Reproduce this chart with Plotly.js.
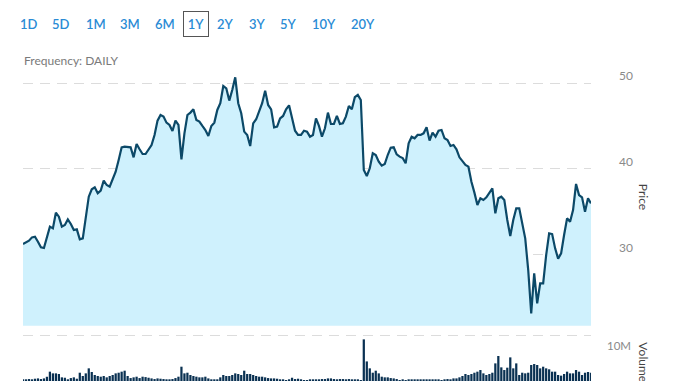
<!DOCTYPE html>
<html><head><meta charset="utf-8">
<script src="https://cdn.plot.ly/plotly-3.0.1.min.js"></script>
<style>html,body{margin:0;padding:0;background:#fff;overflow:hidden}#chart{width:678px;height:381px}</style>
</head><body><div id="chart"></div>
<script>
// ---- data ----
const ranges = ['1D','5D','1M','3M','6M','1Y','2Y','3Y','5Y','10Y','20Y'];
const selectedRange = '1Y';
const frequencyLabel = 'Frequency: DAILY';
const priceTitle = 'Price';
const volumeTitle = 'Volume';
const price = [
31.24,31.40,31.63,32.02,32.10,31.52,30.86,30.78,32.10,33.27,33.07,34.90,34.44,33.27,33.46,34.12,33.58,32.88,32.96,31.79,31.91,34.24,36.77,37.63,37.86,37.16,37.47,38.64,38.13,37.94,38.79,39.69,41.05,42.53,42.61,42.53,42.53,41.36,
42.92,42.30,41.75,41.75,42.30,42.80,43.97,45.64,46.30,46.11,45.41,45.14,44.44,45.64,45.14,41.13,44.16,46.30,46.58,46.96,45.72,45.53,45.02,44.55,43.85,45.02,45.41,46.89,47.67,49.69,49.42,47.98,49.22,50.70,47.67,46.50,44.36,43.97,
42.68,45.33,45.80,46.69,47.67,49.14,47.47,46.96,44.86,44.94,45.91,46.19,46.96,47.43,46.11,44.47,43.97,43.97,44.47,44.36,43.77,43.97,45.91,45.02,43.77,44.75,46.58,45.25,45.25,46.19,45.25,45.33,46.11,47.35,46.96,48.37,48.64,48.05,
39.88,39.18,40.08,41.83,41.63,40.86,40.39,40.58,41.63,42.49,42.53,41.71,41.44,41.28,40.66,43.00,43.77,43.58,43.97,43.97,44.16,44.86,43.31,44.24,43.77,44.47,44.55,43.58,43.38,42.68,42.80,42.30,41.36,40.97,40.47,40.27,38.52,37.24,
35.80,36.58,36.38,36.69,37.16,37.74,34.82,36.58,36.77,36.38,34.05,32.18,34.05,35.41,35.41,33.66,31.91,28.21,23.15,27.82,24.32,26.65,26.65,29.96,32.49,32.41,30.74,29.53,30.15,32.30,34.24,33.85,35.21,38.25,36.96,36.69,35.02,36.58,35.99
];
// volume in millions
const volumeM = [
3.26,3.26,3.3,3.26,3.35,3.4,3.3,3.4,3.65,4.43,
4.17,4.17,4.07,3.56,3.5,3.26,3.45,3.56,3.35,4.27,
3.77,4.17,4.94,4.38,3.92,3.77,3.66,3.77,3.56,3.77,
3.92,4.17,4.27,4.43,4.58,3.77,3.45,3.56,3.66,3.45,
3.66,3.6,3.5,3.4,3.3,3.4,3.35,3.3,3.26,3.26,
3.3,3.45,3.66,5.19,4.17,4.27,3.92,3.77,3.66,3.56,
3.56,3.66,3.4,3.26,3.26,3.26,3.56,3.92,3.77,3.77,
3.92,4.17,4.07,3.92,4.58,4.07,4.07,3.92,3.77,3.66,
3.66,3.56,3.45,3.4,3.4,3.35,3.26,3.26,3.15,3.26,
3.5,3.3,3.35,3.26,3.15,3.15,3.26,3.26,3.26,3.26,
3.3,3.3,3.4,3.4,3.3,3.26,3.3,3.3,3.26,3.3,
3.26,3.26,3.26,3.15,9.38,6.0,4.94,4.27,4.58,4.17,
3.66,3.56,3.56,3.45,3.4,3.3,3.15,3.26,3.15,3.26,
3.26,3.26,3.26,3.26,3.26,3.26,3.26,3.26,3.26,3.26,
3.15,3.26,3.3,3.26,3.4,3.4,3.56,3.77,4.07,3.92,
4.07,4.27,4.43,4.68,4.17,3.92,4.07,4.27,5.7,6.83,
5.09,4.68,5.04,6.62,4.94,5.7,3.92,4.27,4.17,4.27,
5.45,5.6,5.45,4.94,5.19,4.94,4.79,4.43,4.43,3.92,
3.82,4.07,4.43,4.17,4.17,4.68,4.43,3.92,4.27,4.38,4.27
];
const priceTicks = [30, 40, 50];
const volumeTicks = [10];
const volumeTickText = ['10M'];
const day = price.map((_, i) => i);

// ---- layout helpers (pixel -> paper) ----
const L = 22.7, R = 591.3, T = 70, B = 381;
const px = X => (X - L) / (R - L);
const py = Y => (B - Y) / (B - T);

const btnCenters = [28.7, 61, 96, 130.3, 164.7, 196.3, 225.3, 257.2, 288.2, 323.7, 363.3];
const annotations = ranges.map((r, i) => {
  const a = {
    text: r, xref: 'paper', yref: 'paper', x: px(btnCenters[i]), y: py(23.5),
    xanchor: 'center', yanchor: 'middle', showarrow: false,
    font: {family: 'Lato', size: 13, color: '#2a8bd5', weight: 600}
  };
  if (r === selectedRange) {
    Object.assign(a, {bordercolor: '#555', borderwidth: 1, borderpad: 1, width: 22, height: 22, bgcolor: '#fff'});
  }
  return a;
});
annotations.push({
  text: frequencyLabel, xref: 'paper', yref: 'paper', x: px(21.7), y: py(60.5),
  xanchor: 'left', yanchor: 'middle', showarrow: false,
  font: {family: 'Lato', size: 12, color: '#7a7a7a'}
});
annotations.push({
  text: priceTitle, xref: 'paper', yref: 'paper', x: px(644), y: py(196.5), textangle: 90,
  xanchor: 'center', yanchor: 'middle', showarrow: false,
  font: {family: 'Lato', size: 12, color: '#444'}
});
annotations.push({
  text: volumeTitle, xref: 'paper', yref: 'paper', x: px(644), y: py(362), textangle: 90,
  xanchor: 'center', yanchor: 'middle', showarrow: false,
  font: {family: 'Lato', size: 12, color: '#444'}
});

const traces = [
  {
    type: 'scatter', mode: 'lines', x: day, y: price, yaxis: 'y',
    line: {color: '#0c4968', width: 2.2}, fill: 'tozeroy', fillcolor: '#cff1fd',
    hoverinfo: 'skip'
  },
  {
    type: 'bar', x: day, y: volumeM, yaxis: 'y2',
    marker: {color: '#0a3152', line: {width: 0}}, hoverinfo: 'skip'
  }
];

const layout = {
  width: 678, height: 381,
  margin: {l: L, r: 678 - R, t: T, b: 0, pad: 0},
  paper_bgcolor: '#fff', plot_bgcolor: 'rgba(0,0,0,0)',
  showlegend: false, bargap: 0.25,
  xaxis: {range: [0, 190], visible: false, fixedrange: true},
  yaxis: {
    domain: [py(325.7), 1], range: [21.715, 51.55], side: 'right', anchor: 'x',
    tickvals: priceTicks, ticks: '', showline: false, zeroline: false,
    showgrid: true, gridcolor: '#dcdcdc', gridwidth: 1, griddash: '10px,7px',
    tickfont: {family: 'Lato', size: 12, color: '#8a8a8a'},
    ticklabelstandoff: 27, ticklabelshift: -7, automargin: false
  },
  yaxis2: {
    domain: [0, py(331)], range: [3, 10.66], side: 'right', anchor: 'x',
    tickvals: volumeTicks, ticktext: volumeTickText, ticks: '', showline: false, zeroline: false,
    showgrid: true, gridcolor: '#dcdcdc', gridwidth: 1, griddash: '10px,7px',
    tickfont: {family: 'Lato', size: 11.5, color: '#8a8a8a'},
    ticklabelstandoff: 15, ticklabelshift: 11, automargin: false
  },
  annotations: annotations
};

Plotly.newPlot('chart', traces, layout, {staticPlot: true, displayModeBar: false});
</script>
</body></html>
